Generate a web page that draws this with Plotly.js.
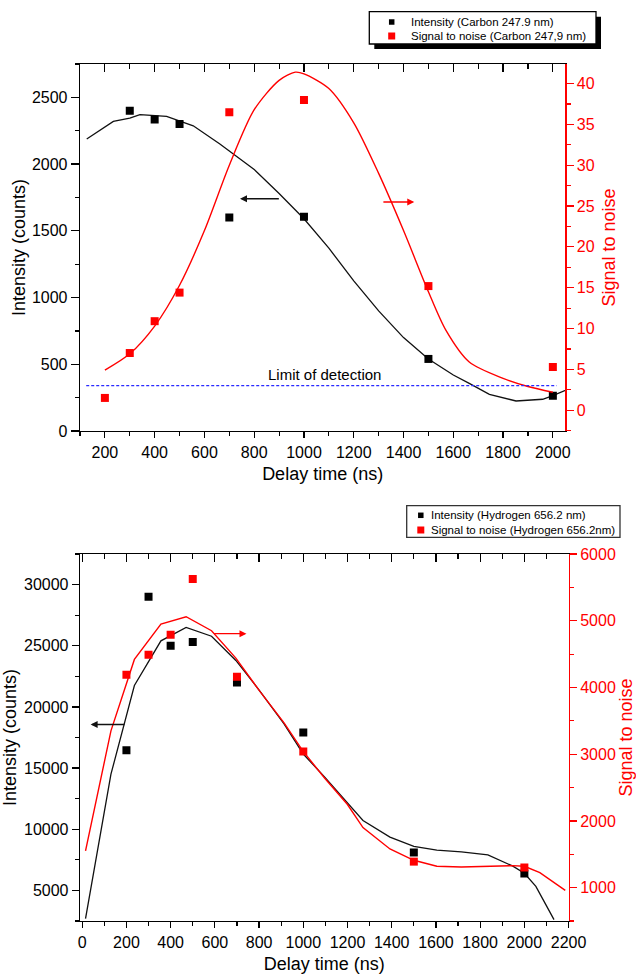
<!DOCTYPE html>
<html>
<head>
<meta charset="utf-8">
<script src="https://cdn.plot.ly/plotly-3.0.1.min.js"></script>
<style>
  html, body { margin: 0; padding: 0; background: #fff; }
  #chart { width: 636px; height: 974px; }
</style>
</head>
<body>
<div id="chart"></div>
<script>
// ---- Carbon 247.9 nm (upper panel) ----
const carbonIntDelay = [300, 400, 500, 700, 1000, 1500, 2000];
const carbonInt = [2400, 2335, 2300, 1600, 1605, 540, 265];
const carbonSnrDelay = [200, 300, 400, 500, 700, 1000, 1500, 2000];
const carbonSnr = [1.5, 7.0, 10.9, 14.4, 36.5, 38.0, 15.2, 5.3];

// fitted curves
const carbonIntFitDelay = [127, 234, 300, 341, 448, 500, 555, 662, 800, 900, 1000, 1100, 1200, 1300, 1400, 1500, 1600, 1664, 1745, 1852, 1959, 2000, 2053];
const carbonIntFit = [2188, 2320, 2345, 2370, 2357, 2325, 2287, 2150, 1960, 1780, 1590, 1370, 1125, 900, 700, 540, 420, 357, 275, 225, 238, 265, 307];
const carbonSnrFitDelay = [200, 300, 400, 500, 600, 700, 800, 900, 965, 1000, 1100, 1200, 1300, 1400, 1500, 1570, 1664, 1800, 1900, 2000];
const carbonSnrFit = [4.9, 6.9, 10.3, 15.3, 22, 30, 36.8, 40.4, 41.4, 41.2, 39.4, 35.2, 29, 22, 14.5, 9.8, 5.9, 3.9, 2.9, 2.2];

// limit of detection (S/N = 3)
const lodDelay = [125, 2015];
const lodSnr = 3;

// ---- Hydrogen 656.2 nm (lower panel) ----
const hydDelay = [200, 300, 400, 500, 700, 1000, 1500, 2000];
const hydInt = [16450, 29000, 25000, 25300, 22000, 17900, 8100, 6390];
const hydSnr = [4190, 4490, 4790, 5625, 4160, 3040, 1390, 1300];

const hydIntFitDelay = [15, 130, 236, 356, 470, 585, 695, 802, 913, 1000, 1097, 1199, 1270, 1392, 1500, 1604, 1715, 1835, 1946, 2000, 2052, 2097, 2134];
const hydIntFit = [2700, 14500, 21750, 25400, 26500, 25780, 23800, 21340, 18620, 16150, 14260, 12220, 10720, 9360, 8600, 8300, 8150, 7900, 7000, 6400, 5335, 3840, 2616];
const hydSnrFitDelay = [15, 130, 236, 356, 470, 585, 695, 802, 913, 1000, 1097, 1199, 1270, 1392, 1500, 1604, 1715, 1835, 1946, 2000, 2070, 2185];
const hydSnrFit = [1550, 3350, 4420, 4950, 5060, 4850, 4440, 3950, 3470, 3040, 2640, 2250, 1900, 1580, 1410, 1320, 1310, 1325, 1330, 1320, 1225, 960];

// legend entries
const carbonLegend = ['Intensity (Carbon 247.9 nm)', 'Signal to noise (Carbon 247,9 nm)'];
const hydLegend = ['Intensity (Hydrogen 656.2 nm)', 'Signal to noise (Hydrogen 656.2nm)'];

// ---- styling ----
const FONT = 'Arial, "Liberation Sans", sans-serif';
const RED = '#ff0000';
const BLACK = '#111111';
const W = 636, H = 974;
const px = v => v / W;          // pixel -> paper x
const py = v => 1 - v / H;      // pixel -> paper y

const traces = [
  // upper panel
  { x: carbonIntFitDelay, y: carbonIntFit, xaxis: 'x', yaxis: 'y', mode: 'lines',
    line: { color: BLACK, width: 1.3 }, hoverinfo: 'skip' },
  { x: carbonSnrFitDelay, y: carbonSnrFit, xaxis: 'x', yaxis: 'y2', mode: 'lines',
    line: { color: RED, width: 1.4, shape: 'spline', smoothing: 0.8 }, hoverinfo: 'skip' },
  { x: lodDelay, y: lodDelay.map(() => lodSnr), xaxis: 'x', yaxis: 'y2', mode: 'lines',
    line: { color: '#2a2aff', width: 1.2, dash: '3px,2px' }, hoverinfo: 'skip' },
  { x: carbonIntDelay, y: carbonInt, xaxis: 'x', yaxis: 'y', mode: 'markers', name: carbonLegend[0],
    marker: { symbol: 'square', size: 8, color: '#000' } },
  { x: carbonSnrDelay, y: carbonSnr, xaxis: 'x', yaxis: 'y2', mode: 'markers', name: carbonLegend[1],
    marker: { symbol: 'square', size: 8, color: RED } },
  { x: [], y: [], xaxis: 'x3', yaxis: 'y', hoverinfo: 'skip' },

  // lower panel
  { x: hydIntFitDelay, y: hydIntFit, xaxis: 'x2', yaxis: 'y3', mode: 'lines',
    line: { color: BLACK, width: 1.3 }, hoverinfo: 'skip' },
  { x: hydSnrFitDelay, y: hydSnrFit, xaxis: 'x2', yaxis: 'y4', mode: 'lines',
    line: { color: RED, width: 1.4 }, hoverinfo: 'skip' },
  { x: hydDelay, y: hydInt, xaxis: 'x2', yaxis: 'y3', mode: 'markers', name: hydLegend[0],
    marker: { symbol: 'square', size: 8, color: '#000' } },
  { x: hydDelay, y: hydSnr, xaxis: 'x2', yaxis: 'y4', mode: 'markers', name: hydLegend[1],
    marker: { symbol: 'square', size: 8, color: RED } },
  { x: [], y: [], xaxis: 'x4', yaxis: 'y3', hoverinfo: 'skip' }
];

function baseAxis(extra) {
  return Object.assign({
    showgrid: false, zeroline: false, showline: true,
    linecolor: '#000', linewidth: 1.3,
    ticks: 'outside', tickcolor: '#000', tickwidth: 1.2,
    tickfont: { size: 16, color: '#000', family: FONT }
  }, extra);
}
function minorTicks(dtick, len, dir, color) {
  return { dtick: dtick, tick0: 0, ticks: dir, ticklen: len, tickwidth: 1.2, tickcolor: color || '#000', showgrid: false };
}
function redAxis(extra) {
  return baseAxis(Object.assign({
    linecolor: RED, tickcolor: RED, tickfont: { size: 16, color: RED, family: FONT }
  }, extra));
}

const topX = [px(80), px(565.3)];
const topY = [py(431), py(64)];
const botX = [px(80), px(568.7)];
const botY = [py(921), py(554)];

const titleFont = { size: 18, color: '#000', family: FONT };
const redTitleFont = { size: 18, color: RED, family: FONT };

// boxed key: frame (with optional drop shadow), two square swatches and two text rows
function legendBox(box, shadow, rows, swatchX, textX, labels, frameColor) {
  const shapes = [];
  const notes = [];
  if (shadow) {
    shapes.push({ type: 'rect', xref: 'paper', yref: 'paper',
      x0: px(box[0] + shadow), x1: px(box[2] + shadow), y0: py(box[3] + shadow), y1: py(box[1] + shadow),
      fillcolor: '#000', line: { width: 0 }, layer: 'above' });
  }
  shapes.push({ type: 'rect', xref: 'paper', yref: 'paper',
    x0: px(box[0]), x1: px(box[2]), y0: py(box[3]), y1: py(box[1]),
    fillcolor: '#fff', line: { color: frameColor, width: 1.3 }, layer: 'above' });
  const swatch = [{ c: '#000', s: 5.5 }, { c: RED, s: 7 }];
  rows.forEach((ry, i) => {
    const h = swatch[i].s / 2;
    shapes.push({ type: 'rect', xref: 'paper', yref: 'paper',
      x0: px(swatchX - h), x1: px(swatchX + h), y0: py(ry + h), y1: py(ry - h),
      fillcolor: swatch[i].c, line: { width: 0 }, layer: 'above' });
    notes.push({ xref: 'paper', yref: 'paper', x: px(textX), y: py(ry), xanchor: 'left', yanchor: 'middle',
      text: labels[i], showarrow: false, font: { size: 11.5, family: FONT, color: '#000' } });
  });
  return { shapes, notes };
}
const keyTop = legendBox([369.3, 11.7, 596, 44], 5, [22, 36], 391.7, 408.5, carbonLegend, '#000');
const keyBot = legendBox([406.7, 505.7, 620, 537.3], 0, [515.3, 530], 420.8, 428.5, hydLegend, '#333');

const layout = {
  width: W, height: H,
  margin: { l: 0, r: 0, t: 0, b: 0, autoexpand: false },
  paper_bgcolor: '#fff', plot_bgcolor: 'rgba(0,0,0,0)',
  font: { family: FONT, color: '#000' },
  showlegend: false,

  // upper panel axes
  xaxis: baseAxis({ domain: topX, anchor: 'y', range: [100, 2050], tick0: 0, dtick: 200, ticklen: 6,
    minor: minorTicks(100, 4, 'outside'),
    title: { text: 'Delay time (ns)', font: titleFont, standoff: 8 } }),
  xaxis3: baseAxis({ domain: topX, anchor: 'y', overlaying: 'x', side: 'top', range: [100, 2050], tick0: 0, dtick: 200,
    ticks: 'inside', ticklen: 8, showticklabels: false, minor: minorTicks(100, 5, 'inside') }),
  yaxis: baseAxis({ domain: topY, anchor: 'x', range: [0, 2750], tick0: 0, dtick: 500, ticklen: 8,
    minor: minorTicks(250, 4, 'outside'),
    title: { text: 'Intensity (counts)', font: titleFont, standoff: 1 } }),
  yaxis2: redAxis({ domain: topY, anchor: 'x', overlaying: 'y', side: 'right', range: [-2.55, 42.4], tick0: 0, dtick: 5, ticklen: 7,
    minor: minorTicks(2.5, 4, 'outside', RED),
    title: { text: 'Signal to noise', font: redTitleFont, standoff: 8 } }),

  // lower panel axes
  xaxis2: baseAxis({ domain: botX, anchor: 'y3', range: [-10, 2200.5], tick0: 0, dtick: 200, ticklen: 6,
    minor: minorTicks(100, 4, 'outside'),
    title: { text: 'Delay time (ns)', font: titleFont, standoff: 10 } }),
  xaxis4: baseAxis({ domain: botX, anchor: 'y3', overlaying: 'x2', side: 'top', range: [-10, 2200.5], tick0: 0, dtick: 200,
    ticks: 'inside', ticklen: 8, showticklabels: false, minor: minorTicks(100, 5, 'inside') }),
  yaxis3: baseAxis({ domain: botY, anchor: 'x2', range: [2500, 32500], tick0: 0, dtick: 5000, ticklen: 7,
    tickformat: 'd', minor: minorTicks(2500, 4, 'outside'),
    title: { text: 'Intensity (counts)', font: titleFont, standoff: 4 } }),
  yaxis4: redAxis({ domain: botY, anchor: 'x2', overlaying: 'y3', side: 'right', range: [500, 6000.5], tick0: 0, dtick: 1000, ticklen: 7,
    tickformat: 'd', minor: minorTicks(500, 4, 'outside', RED),
    title: { text: 'Signal to noise', font: redTitleFont, standoff: 13 } }),

  shapes: keyTop.shapes.concat(keyBot.shapes),

  annotations: [
    { xref: 'x', yref: 'y2', x: 1081, y: 4.4, text: 'Limit of detection', showarrow: false,
      font: { size: 15, family: FONT, color: '#000' } },
    // direction arrows: which axis each curve belongs to
    { xref: 'x', yref: 'y', x: 743, y: 1740, axref: 'x', ayref: 'y', ax: 905, ay: 1740, text: '',
      showarrow: true, arrowhead: 2, arrowsize: 1, arrowwidth: 1.4, arrowcolor: BLACK, standoff: 0 },
    { xref: 'x', yref: 'y2', x: 1443, y: 25.5, axref: 'x', ayref: 'y2', ax: 1313, ay: 25.5, text: '',
      showarrow: true, arrowhead: 2, arrowsize: 1, arrowwidth: 1.4, arrowcolor: RED, standoff: 0 },
    { xref: 'x2', yref: 'y3', x: 38, y: 18565, axref: 'x2', ayref: 'y3', ax: 198, ay: 18565, text: '',
      showarrow: true, arrowhead: 2, arrowsize: 1, arrowwidth: 1.4, arrowcolor: BLACK, standoff: 0 },
    { xref: 'x2', yref: 'y4', x: 743, y: 4807, axref: 'x2', ayref: 'y4', ax: 590, ay: 4807, text: '',
      showarrow: true, arrowhead: 2, arrowsize: 1, arrowwidth: 1.4, arrowcolor: RED, standoff: 0 }
  ].concat(keyTop.notes, keyBot.notes)
};

Plotly.newPlot('chart', traces, layout, { staticPlot: true, displayModeBar: false });
</script>
</body>
</html>
